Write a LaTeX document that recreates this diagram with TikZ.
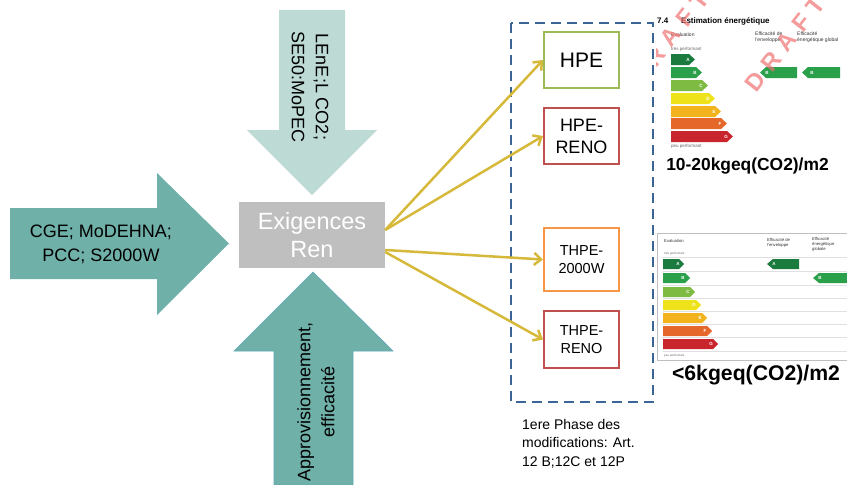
\documentclass[tikz,border=0pt]{standalone}
\usepackage{fontspec}
\setmainfont{Liberation Sans}
\usetikzlibrary{positioning,arrows.meta}
\definecolor{tealdark}{HTML}{6FB0A8}
\definecolor{teallight}{HTML}{BDDAD5}
\definecolor{tealedge}{HTML}{5FA8B6}
\definecolor{boxgray}{HTML}{BFBFBF}
\definecolor{linkyellow}{HTML}{D6B93A}
\definecolor{framblue}{HTML}{3B6597}
\definecolor{catgreen}{HTML}{9BBB59}
\definecolor{catred}{HTML}{C0504D}
\definecolor{catorange}{HTML}{F79646}
\definecolor{egA}{HTML}{1B7A3E}
\definecolor{egB}{HTML}{2BA04A}
\definecolor{egC}{HTML}{7DBB42}
\definecolor{egD}{HTML}{EEE21B}
\definecolor{egE}{HTML}{F2B31C}
\definecolor{egF}{HTML}{E5682A}
\definecolor{egG}{HTML}{C9252C}
\definecolor{wmred}{HTML}{F07070}
\newcommand{\wmgap}{\hspace{8pt}}
\tikzset{
        arrowtext/.style={align=center, font=\fontsize{18}{24}\selectfont}, % text on the big block arrows
        centre/.style={fill=boxgray, text=white, align=center, minimum width=146pt, minimum height=66pt, font=\fontsize{23.5}{28}\selectfont}, % the central grey box
        cat/.style={draw, line width=2pt, fill=white, align=center, minimum width=75pt, minimum height=56pt, inner sep=2pt, font=\fontsize{18}{22}\selectfont}, % the coloured boxes
        link/.style={draw=linkyellow, line width=2.5pt, -{Straight Barb[length=7pt,width=12pt]}}, % yellow connectors
        phaseframe/.style={draw=framblue, line width=2.5pt, dash pattern=on 10pt off 6pt}, % dashed frame
        phasenote/.style={align=left, inner sep=0pt, font=\fontsize{14}{18.5}\selectfont},
        lbltitle/.style={inner sep=0pt, font=\bfseries\fontsize{8}{9}\selectfont},
        lbltiny/.style={inner sep=0pt, align=left, text=black!80, font=\fontsize{5}{6}\selectfont},
        lblmini/.style={inner sep=0pt, text=black!60, font=\fontsize{4.5}{5}\selectfont},
        barletter/.style={inner sep=0pt, text=white, font=\bfseries\fontsize{4.5}{5}\selectfont},
        co2/.style={inner sep=0pt, font=\bfseries\fontsize{17.4}{20}\selectfont},
        wmark/.style={text=wmred, opacity=0.7, rotate=52, inner sep=0pt, font=\bfseries\fontsize{24}{28}\selectfont}, % DRAFT watermark
}
\begin{document}
\begin{tikzpicture}[x=1pt,y=-1pt]
\useasboundingbox (0,0) rectangle (847,485);
% big block arrows
\fill[tealdark] (10,208) -- (157,208) -- (157,173) -- (229,243.5) -- (157,315) -- (157,279) -- (10,279) -- cycle;
\fill[teallight] (279,10) -- (345,10) -- (345,130) -- (377,130) -- (312,195) -- (247,130) -- (279,130) -- cycle;
\filldraw[fill=tealdark, draw=tealedge, line width=0.6pt] (313,272) -- (393,351) -- (353,351) -- (353,485) -- (274,485) -- (274,351) -- (234,351) -- cycle;
\node[arrowtext] (cge) at (101,244.5) {CGE; MoDEHNA;\\PCC; S2000W};
\node[arrowtext, rotate=-90] (lene) at (310,87) {LEnE;L CO2;\\SE50:MoPEC};
\node[arrowtext, rotate=90] (appro) at (316,402) {Approvisionnement,\\efficacité};
\node[centre] (exig) at (312,235) {Exigences\\Ren};
% the four categories
\draw[phaseframe] (511,23) rectangle (653,402);
\node[cat, draw=catgreen, font=\fontsize{21}{25}\selectfont] (hpe) at (581.5,60) {HPE};
\node[cat, draw=catred, below=18pt of hpe] (hpereno) {HPE-\\RENO};
\node[cat, draw=catorange, minimum height=63pt, below=62pt of hpereno, font=\fontsize{14.5}{18}\selectfont] (thpew) {THPE-\\2000W};
\node[cat, draw=catred, minimum height=57pt, below=18pt of thpew, font=\fontsize{14.5}{18}\selectfont] (thpereno) {THPE-\\RENO};
\draw[link] ([yshift=5pt]exig.east) -- (hpe.west);
\draw[link] ([yshift=5pt]exig.east) -- (hpereno.west);
\draw[link] ([yshift=-15pt]exig.east) -- (thpew.west);
\draw[link] ([yshift=-17pt]exig.east) -- (thpereno.west);
\node[phasenote, anchor=west] (phase) at (522,443.5) {1ere Phase des\\modifications: Art.\\12 B;12C et 12P};
% energy label, top
\node[lbltitle, anchor=west] (num1) at (657,21) {7.4};
\node[lbltitle, anchor=west] (est1) at (681,21) {Estimation énergétique};
\node[lbltiny, anchor=west] (eval1) at (671,35) {Evaluation};
\node[lbltiny, anchor=west] (env1) at (755,37) {Efficacité de\\l'enveloppe};
\node[lbltiny, anchor=west] (glob1) at (797,37) {Efficacité\\énergétique global};
\node[lblmini, anchor=west] (tp1) at (671,49) {très performant};
\node[lblmini, anchor=west] (pp1) at (671,146.5) {peu performant};
\fill[egA] (671,54) -- (689,54) -- (695,59.5) -- (689,65) -- (671,65) -- cycle (688,59.5) node[barletter] (a1) {A};
\fill[egB] (671,67) -- (696,67) -- (702,72.5) -- (696,78) -- (671,78) -- cycle (695,72.5) node[barletter] (b1) {B};
\fill[egC] (671,80) -- (702,80) -- (708,85.5) -- (702,91) -- (671,91) -- cycle (701,85.5) node[barletter] (c1) {C};
\fill[egD] (671,93) -- (709,93) -- (715,98.5) -- (709,104) -- (671,104) -- cycle (708,98.5) node[barletter] (d1) {D};
\fill[egE] (671,106) -- (715,106) -- (721,111.5) -- (715,117) -- (671,117) -- cycle (714,111.5) node[barletter] (e1) {E};
\fill[egF] (671,118) -- (721,118) -- (727,123.5) -- (721,129) -- (671,129) -- cycle (720,123.5) node[barletter] (f1) {F};
\fill[egG] (671,131) -- (727,131) -- (733,136.5) -- (727,142) -- (671,142) -- cycle (726,136.5) node[barletter] (g1) {G};
\fill[egB] (760,72.5) -- (766,67) -- (797,67) -- (797,78) -- (766,78) -- cycle (767,72.5) node[barletter] (envb1) {B};
\fill[egB] (802,72.5) -- (808,67) -- (840,67) -- (840,78) -- (808,78) -- cycle (812,72.5) node[barletter] (globb1) {B};
\begin{scope}
\clip (656,0) rectangle (847,160);
\node[wmark] (draft1) at (785,44) {D\wmgap R\wmgap A\wmgap F\wmgap T};
\node[wmark] (draft2) at (669,39) {D\wmgap R\wmgap A\wmgap F\wmgap T};
\end{scope}
\node[co2] (co2a) at (747.5,166) {10-20kgeq(CO2)/m2};
% energy label, bottom
\draw[black!25, line width=0.8pt] (657,233) rectangle (850,360);
\foreach \y in {257,271,285,298.5,311.5,324.5,337.5,351.5}
  \draw[black!12, line width=0.5pt] (663,\y) -- (850,\y);
\node[lbltiny, anchor=west, font=\fontsize{4.2}{5}\selectfont] (eval2) at (664,241) {Evaluation};
\node[lbltiny, anchor=west, font=\fontsize{4.2}{5}\selectfont] (env2) at (767,242.5) {Efficacité de\\l'enveloppe};
\node[lbltiny, anchor=west, font=\fontsize{4.2}{5}\selectfont] (glob2) at (812,244) {Efficacité\\énergétique\\globale};
\node[lblmini, anchor=west, font=\fontsize{3}{4}\selectfont] (tp2) at (664,254) {très performant};
\node[lblmini, anchor=west, font=\fontsize{3}{4}\selectfont] (pp2) at (664,355.5) {peu performant};
\fill[egA] (663,259) -- (679,259) -- (684,264) -- (679,269) -- (663,269) -- cycle (678,264) node[barletter] (a2) {A};
\fill[egB] (663,273) -- (685,273) -- (690,278) -- (685,283) -- (663,283) -- cycle (683,278) node[barletter] (b2) {B};
\fill[egC] (663,287) -- (690,287) -- (695,292) -- (690,297) -- (663,297) -- cycle (688,292) node[barletter] (c2) {C};
\fill[egD] (663,300) -- (696,300) -- (701,305) -- (696,310) -- (663,310) -- cycle (694,305) node[barletter] (d2) {D};
\fill[egE] (663,313) -- (702,313) -- (707,318) -- (702,323) -- (663,323) -- cycle (700,318) node[barletter] (e2) {E};
\fill[egF] (663,326) -- (707,326) -- (712,331) -- (707,336) -- (663,336) -- cycle (705,331) node[barletter] (f2) {F};
\fill[egG] (663,339) -- (713,339) -- (718,344) -- (713,349) -- (663,349) -- cycle (711,344) node[barletter] (g2) {G};
\fill[egA] (767,264) -- (773,259) -- (799,259) -- (799,269) -- (773,269) -- cycle (774,264) node[barletter] (enva2) {A};
\fill[egB] (813,278) -- (819,273) -- (850,273) -- (850,283) -- (819,283) -- cycle (820,278) node[barletter] (globb2) {B};
\node[co2, font=\bfseries\fontsize{21.2}{24}\selectfont] (co2b) at (756,375) {<6kgeq(CO2)/m2};
\end{tikzpicture}
\end{document}
